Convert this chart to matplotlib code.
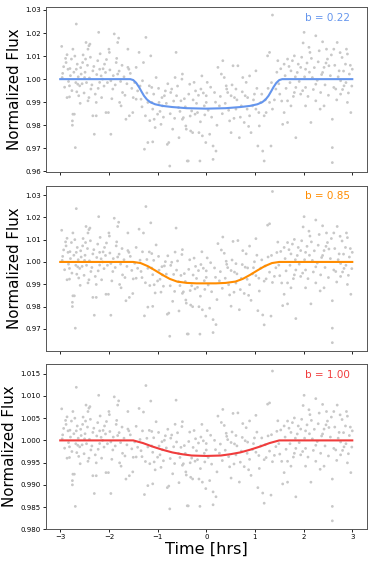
import numpy as np
import matplotlib
matplotlib.use("Agg")
import matplotlib.pyplot as plt

t_pts = np.array([
    -2.97, -2.96, -2.93, -2.88, -2.86, -2.84, -2.81, -2.86, -2.81, -2.80, -2.77, -2.74, -2.74, -2.71,
    -2.75, -2.75, -2.69, -2.67, -2.67, -2.66, -2.64, -2.60, -2.62, -2.57, -2.54, -2.50, -2.48, -2.47,
    -2.43, -2.41, -2.39, -2.43, -2.41, -2.37, -2.33, -2.33, -2.30, -2.26, -2.26, -2.23, -2.21, -2.19,
    -2.19, -2.16, -2.13, -2.09, -2.07, -2.06, -2.01, -2.00, -1.99, -1.96, -1.96, -1.92, -1.89, -1.85,
    -1.82, -1.80, -1.82, -1.78, -1.75, -1.72, -1.65, -1.61, -1.61, -1.59, -1.58, -1.51, -1.50, -1.44,
    -1.44, -1.41, -1.38, -1.34, -1.31, -1.29, -1.27, -1.25, -1.24, -1.20, -1.20, -1.17, -1.14, -1.12,
    -1.12, -1.10, -1.10, -1.07, -1.03, -1.00, -0.97, -0.93, -0.90, -0.86, -0.84, -0.80, -0.77, -0.75,
    -0.73, -0.71, -0.69, -0.64, -0.62, -0.61, -0.57, -0.56, -0.52, -0.50, -0.49, -0.49, -0.47, -0.42,
    -0.41, -0.39, -0.37, -0.34, -0.32, -0.30, -0.28, -0.25, -0.23, -0.22, -0.18, -0.15, -0.13, -0.11,
    -0.09, -0.08, -0.04, -0.01, 0.00, 0.02,
    0.00, 0.07, 0.14, 0.14, 0.17, 0.20, 0.24, 0.27, 0.31, 0.34, 0.37, 0.41, 0.42, 0.44, 0.48, 0.51,
    0.51, 0.55, 0.58, 0.61, 0.61, 0.65, 0.68, 0.72, 0.75, 0.78, 0.80, 0.82, 0.85, 0.89, 0.89, 0.92,
    0.95, 0.99, 1.02, 1.02, 1.06, 1.09, 1.12, 1.16, 1.19, 1.19, 1.23, 1.26, 1.30, 1.30, 1.33, 1.36,
    1.36, 1.43, 1.47, 1.51, 1.57, 1.60, 1.60, 1.67, 1.67, 1.67, 1.74, 1.74, 1.81, 1.81, 1.84, 1.84,
    1.87, 1.94, 1.94, 1.99, 2.01, 2.04, 2.04, 2.04, 2.11, 2.13, 2.15, 2.18, 2.25, 2.25, 2.25, 2.32,
    2.35, 2.39, 2.39, 2.42, 2.42, 2.47, 2.49, 2.52, 2.59, 2.59, 2.59, 2.62, 2.62, 2.66, 2.69, 2.73,
    2.76, 2.76, 2.79, 2.83, 2.86, 2.90, 2.90, 2.94, 2.97, 3.00])
d_pts = np.array([
    14.2, 0.7, 5.4, 7.2, 10.6, 4.3, -2.9, -8.0, -7.7, 4.6, 8.7, 13.0, -15.2, -15.2,
    -18.1, -20.0, -29.7, 23.9, 4.3, -5.5, -2.2, -2.9, -7.2, 2.2, 7.2, 0.7, 8.7, 15.9,
    13.0, 14.5, 15.2, -9.4, -8.0, -4.3, 3.6, -15.9, -23.9, -15.9, -10.1, 8.0, 20.3, 4.3,
    -1.4, 1.4, 0.0, 6.5, 2.9, -14.5, -14.5, 13.0, 11.6, -23.9, -0.7, -4.3, 19.6, 7.2,
    15.9, 17.8, 2.2, -10.1, -11.6, -5.8, -17.4, 13.0, 5.1, 4.3, -15.9, -14.5, -8.0, 5.1,
    -8.7, -5.1, 11.6, -8.7, -0.7, 7.2, -30.4, -15.9, 18.1, -27.5, -10.1, -2.9, 10.1, -3.6,
    -10.1, -27.2, -13.0, -17.4, 0.7, -15.2, -10.1, -19.6, -11.6, -7.2, -5.1, -28.3, -27.5, -37.7,
    -5.8, -4.3, -21.7, 0.7, 11.6, -7.2, -12.3, -25.4, -9.4, 0.0, 2.2, -17.4, -16.7, -20.3,
    -21.7, -35.5, -35.5, -2.2, -22.5, -13.8, -23.2, -1.4, -15.2, -5.1, -14.5, -23.2, -35.5, -4.3,
    1.4, -24.6, -11.6, -27.5, -10.1, -1.4,
    -7.2, -23.9, -29.0, -34.8, -5.8, -31.2, 5.1, -11.6, 2.2, 8.0, 0.7, -2.9, -4.3, -5.8, -18.1, -23.2,
    -7.2, 5.8, -8.0, -13.0, -4.3, 5.8, -25.4, -11.6, 0.7, -18.8, -7.2, -1.4, -8.0, 1.4, -15.9, -23.2,
    -11.6, -6.5, 3.6, -13.0, -29.0, -20.3, -10.1, -31.2, -35.5, -15.9, -14.5, 10.1, 11.6, -10.1, -29.0, 27.8,
    -13.0, -4.3, 8.0, -6.5, -19.6, 6.5, -14.5, 8.7, -9.4, -18.8, 3.6, -11.6, 10.1, -5.8, -3.6, -25.4,
    2.9, 5.1, -6.5, 15.7, 20.3, 4.3, -3.6, -11.6, 13.8, 11.6, -18.8, 0.7, 18.8, -2.2, -9.4, 12.3,
    -5.8, 16.2, 2.9, 5.1, -11.6, 13.0, 8.7, 5.8, -17.4, -29.7, -36.2, 13.0, -3.6, -4.3, 15.9, 3.6,
    -0.7, -6.5, 9.4, -2.9, 6.5, 10.9, -10.1, 2.2, -14.5, 4.3])

# fainter/denser points estimated from the crowded bands of the same panel
t_more = np.array([
    -2.95, -2.91, -2.89, -2.83, -2.79, -2.76, -2.72, -2.70, -2.68, -2.65, -2.63, -2.59, -2.58, -2.55,
    -2.53, -2.51, -2.49, -2.46, -2.44, -2.40, -2.38, -2.35, -2.31, -2.28, -2.25, -2.22, -2.18, -2.15,
    -2.12, -2.10, -2.05, -2.03, -1.98, -1.94, -1.91, -1.87, -1.84, -1.79, -1.76, -1.73, -1.69, -1.67,
    -1.63, -1.56, -1.53,
    -1.47, -1.36, -1.32, -1.22, -1.16, -1.08, -1.05, -0.98, -0.95, -0.91, -0.88, -0.82, -0.79, -0.74,
    -0.67, -0.65, -0.59, -0.54, -0.45, -0.43, -0.36, -0.33, -0.27, -0.20, -0.16, -0.12, -0.06, -0.03,
    0.04, 0.09, 0.11, 0.19, 0.22, 0.29, 0.33, 0.39, 0.46, 0.53, 0.57, 0.63, 0.70, 0.74, 0.84, 0.87,
    0.97, 1.04, 1.08, 1.14, 1.21, 1.27, 1.34, 1.40, 1.45,
    1.49, 1.53, 1.55, 1.62, 1.64, 1.70, 1.72, 1.77, 1.79, 1.83, 1.89, 1.91, 1.96, 1.98, 2.02, 2.07,
    2.09, 2.12, 2.16, 2.20, 2.22, 2.28, 2.30, 2.34, 2.37, 2.44, 2.46, 2.51, 2.55, 2.57, 2.64, 2.68,
    2.71, 2.75, 2.80, 2.82, 2.87, 2.88, 2.92, 2.96, 2.99])
d_more = np.array([
    2.5, -3.5, 9.0, -1.0, 1.5, -5.0, 3.0, 10.0, -1.5, 6.5, 1.0, -10.5, 5.0, -2.0,
    10.5, -6.0, 3.0, -1.5, 6.0, 0.5, 9.5, -2.5, 5.5, -6.5, 2.0, -4.0, 11.0, -8.0,
    4.5, -3.0, 8.5, -1.5, 4.0, -8.5, 1.5, -2.5, 9.0, 3.5, -1.0, 6.0, 1.0, -7.0,
    -2.0, 2.5, -4.0,
    -1.5, -3.0, -12.0, -6.0, -18.0, -6.5, -21.0, -4.0, -14.0, -8.0, -16.5, -10.5, -2.0, -15.0,
    -9.5, -17.0, -3.0, -14.0, -8.5, -12.0, -6.5, -16.0, -9.0, -10.5, -7.0, -18.5, -6.0, -15.5,
    -13.5, -3.5, -16.5, -10.0, -20.0, -7.5, -15.0, -10.5, -13.5, -2.5, -17.0, -9.0, -16.5, -5.5, -13.0, -20.5,
    -9.0, -4.0, -14.5, -6.5, -9.0, -4.0, -1.5, -9.0, 3.0,
    -2.0, 4.5, -9.5, 1.5, -4.0, 5.5, -1.5, 8.0, -7.5, 1.0, 6.5, -1.0, 9.5, -5.0, 1.0, 7.0,
    -7.5, 3.0, 9.0, -4.5, 5.0, -0.5, 7.5, -13.0, 2.0, -2.5, 7.0, -7.0, 1.5, 10.5, 6.0, -9.0,
    1.0, 11.5, -4.5, 3.5, -1.5, 13.0, -6.0, 6.0, -3.0])

# model curves (ppt below 1)
curve_t_a = [-3, -1.56, -1.5, -1.44, -1.38, -1.33, -1.28, -1.22, -1.15, -1.05, -0.9, -0.7, -0.4, 0,
             0.4, 0.7, 0.9, 1.05, 1.15, 1.22, 1.28, 1.33, 1.38, 1.44, 1.5, 1.56, 3]
curve_d_a = [0, 0, -0.4, -1.6, -3.5, -5.4, -7.2, -8.8, -10.0, -10.9, -11.6, -12.1, -12.6, -12.8,
             -12.6, -12.1, -11.6, -10.9, -10.0, -8.8, -7.2, -5.4, -3.5, -1.6, -0.4, 0, 0]
curve_t_b = [-3, -1.5, -1.35, -1.2, -1.05, -0.9, -0.75, -0.6, -0.4, -0.2, 0,
             0.2, 0.4, 0.6, 0.75, 0.9, 1.05, 1.2, 1.35, 1.5, 3]
curve_d_b = [0, 0, -0.5, -1.9, -3.8, -5.8, -7.6, -8.8, -9.4, -9.6, -9.6,
             -9.6, -9.4, -8.8, -7.6, -5.8, -3.8, -1.9, -0.5, 0, 0]
curve_t_c = [-3, -1.5, -1.3, -1.1, -0.9, -0.7, -0.5, -0.3, 0, 0.3, 0.5, 0.7, 0.9, 1.1, 1.3, 1.5, 3]
curve_d_c = [0, 0, -0.6, -1.4, -2.1, -2.7, -3.1, -3.4, -3.5, -3.4, -3.1, -2.7, -2.1, -1.4, -0.6, 0, 0]

labels = ["b = 0.22", "b = 0.85", "b = 1.00"]
colors = ["cornflowerblue", "darkorange", "#f03c3c"]
noise_scale = [1.0, 1.0, 0.5]
ylims = [(0.9596, 1.0313), (0.9602, 1.0342), (0.9800, 1.0172)]
yticks = [[0.96, 0.97, 0.98, 0.99, 1.00, 1.01, 1.02, 1.03],
          [0.97, 0.98, 0.99, 1.00, 1.01, 1.02, 1.03],
          [0.980, 0.985, 0.990, 0.995, 1.000, 1.005, 1.010, 1.015]]
curves = [(curve_t_a, curve_d_a), (curve_t_b, curve_d_b), (curve_t_c, curve_d_c)]

# same scatter in every panel: residual about the b = 0.22 curve
t_all = np.concatenate([t_pts, t_more])
d_all = np.concatenate([d_pts, d_more])
resid = d_all - np.interp(t_all, curve_t_a, curve_d_a)

fig = plt.figure(figsize=(3.74, 5.63), dpi=100)
boxes = [[0.122, 0.694, 0.859, 0.2936], [0.122, 0.3771, 0.859, 0.2931], [0.122, 0.0599, 0.859, 0.2936]]
axes = []
for i in range(3):
    ax = fig.add_axes(boxes[i])
    ct, cd = curves[i]
    flux = 1 + (np.interp(t_all, ct, cd) + noise_scale[i] * resid) / 1000.0
    ax.scatter(t_all, flux, s=4, color="#c8c8c8", edgecolors="none", zorder=1)
    ax.plot(ct, 1 + np.array(cd) / 1000.0, color=colors[i], lw=1.5, zorder=2)
    ax.text(0.946, 0.935, labels[i], transform=ax.transAxes, ha="right", va="center",
            color=colors[i], fontsize=7.5)
    ax.set_xlim(-3.3, 3.3)
    ax.set_ylim(*ylims[i])
    ax.set_yticks(yticks[i])
    ax.set_xticks([-3, -2, -1, 0, 1, 2, 3])
    ax.tick_params(labelsize=5, length=2, width=0.6, pad=1.5)
    for s in ax.spines.values():
        s.set_linewidth(0.7)
        s.set_color("#555555")
    ax.set_ylabel("Normalized Flux", fontsize=10.8, labelpad=2.5)
    if i < 2:
        ax.set_xticklabels([])
    axes.append(ax)

axes[2].set_xlabel("Time [hrs]", fontsize=11.6, labelpad=1)

fig.savefig("out.png", dpi=100)
